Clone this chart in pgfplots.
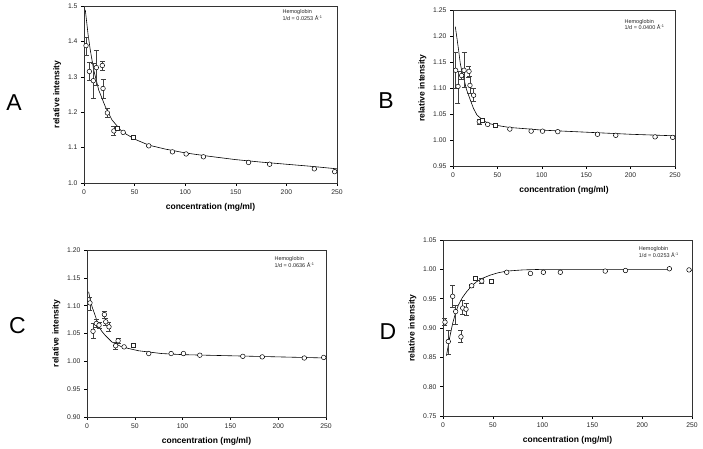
\documentclass[border=0pt]{standalone}
\usepackage{fontspec}
\setmainfont{Liberation Sans}
\usepackage{pgfplots}
\pgfplotsset{compat=1.18}
\usepackage{pgfplotstable}

% ---------- data ----------
\pgfplotstableread{
x y ep em
2.0 1.388 0.025 0.026
5.3 1.315 0.025 0.024
9.2 1.289 0.050 0.049
12.2 1.326 0.048 0.049
18.1 1.332 0.013 0.013
18.8 1.267 0.026 0.028
23.1 1.198 0.013 0.012
29.5 1.147 0.012 0.012
38.7 1.143 0 0
64.0 1.105 0 0
87.4 1.088 0 0
100.9 1.082 0 0
118.0 1.074 0 0
162.6 1.058 0 0
183.4 1.053 0 0
227.6 1.040 0 0
247.7 1.032 0 0
}\Acirc
\pgfplotstableread{
x y
32.8 1.154
48.5 1.130
}\Asq
\pgfplotstableread{
x y
1.3 1.489
4.0 1.420
6.2 1.376
9.6 1.319
14.5 1.263
21.0 1.216
27.7 1.178
37.5 1.145
50.7 1.123
64.0 1.107
80.0 1.096
100.0 1.085
125.0 1.075
150.0 1.066
175.0 1.059
200.0 1.053
225.0 1.047
250.0 1.040
}\Afit

\pgfplotstableread{
x y ep em
3.0 1.134 0.034 0.034
5.6 1.103 0.030 0.033
9.7 1.124 0.008 0.008
12.4 1.134 0.034 0.033
18.0 1.132 0.010 0.012
19.1 1.105 0.017 0.015
23.2 1.086 0.013 0.011
29.6 1.035 0.004 0.004
39.0 1.030 0 0
64.0 1.021 0 0
88.0 1.017 0 0
100.8 1.017 0 0
118.0 1.016 0 0
162.7 1.011 0 0
183.3 1.009 0 0
227.5 1.006 0 0
247.4 1.005 0 0
}\Bcirc
\pgfplotstableread{
x y
33.0 1.038
48.0 1.029
}\Bsq
\pgfplotstableread{
x y
2.6 1.218
4.5 1.195
6.3 1.173
8.2 1.147
10.0 1.132
11.9 1.121
15.0 1.098
19.5 1.077
23.0 1.061
27.0 1.048
34.4 1.037
40.0 1.032
49.5 1.028
64.0 1.024
87.0 1.021
100.0 1.019
150.0 1.015
200.0 1.011
250.0 1.008
}\Bfit

\pgfplotstableread{
x y ep em
3.1 1.105 0.011 0.013
6.3 1.054 0.014 0.013
9.8 1.068 0.008 0.006
12.6 1.065 0.006 0.006
18.2 1.084 0.006 0.007
19.6 1.071 0.006 0.006
23.0 1.062 0.008 0.008
30.0 1.028 0.006 0.006
32.5 1.037 0.005 0.005
38.8 1.026 0 0
64.6 1.014 0 0
88.0 1.014 0 0
100.9 1.014 0 0
118.0 1.011 0 0
163.0 1.009 0 0
183.3 1.008 0 0
227.3 1.006 0 0
247.6 1.007 0 0
}\Ccirc
\pgfplotstableread{
x y
48.5 1.029
}\Csq
\pgfplotstableread{
x y
1.7 1.125
3.1 1.113
5.5 1.097
8.4 1.083
11.9 1.065
15.0 1.055
18.9 1.047
25.9 1.035
36.3 1.026
53.8 1.019
78.0 1.014
100.0 1.012
150.0 1.010
200.0 1.008
250.0 1.006
}\Cfit

\pgfplotstableread{
x y ep em
2.0 0.910 0.006 0.005
5.3 0.877 0.020 0.021
9.7 0.954 0.019 0.019
12.7 0.928 0.010 0.021
18.0 0.885 0.011 0.010
19.8 0.934 0.014 0.010
23.1 0.932 0.010 0.010
28.8 0.972 0.003 0.003
38.9 0.980 0.004 0.004
64.0 0.995 0 0
87.8 0.993 0 0
100.8 0.995 0 0
117.8 0.995 0 0
162.9 0.997 0 0
183.2 0.998 0 0
227.3 1.001 0 0
247.0 0.999 0 0
}\Dcirc
\pgfplotstableread{
x y
32.3 0.985
48.4 0.980
}\Dsq
\pgfplotstableread{
x y
3.5 0.853
6.5 0.882
9.7 0.908
12.5 0.925
15.4 0.939
19.5 0.952
23.8 0.962
28.5 0.971
33.8 0.979
40.0 0.985
47.2 0.990
55.0 0.994
64.0 0.997
80.0 0.999
100.0 1.000
150.0 1.000
228.0 1.000
}\Dfit

\pgfplotsset{
 panel/.style={
  scale only axis,
  anchor=south west,
  clip=false,
  xmin=0, xmax=250,
  xtick={0,50,...,250},
  tick align=outside,
  xtick pos=bottom, ytick pos=left,
  major tick length=3pt,
  tick style={black, line width=0.5pt},
  axis line style={line width=0.6pt, black!80},
  /pgf/number format/assume math mode=true,
  tick label style={font=\fontsize{6.8}{8}\selectfont, text=black!85},
  label style={font=\bfseries\fontsize{8.5}{10}\selectfont},
  xlabel style={yshift=-2.5pt},
  xlabel={concentration (mg/ml)},
  ylabel={relative intensity},
 },
 fitline/.style={no marks, black, line width=0.6pt},
 circpts/.style={only marks, mark=*, mark size=2.3pt,
   mark options={fill=white, draw=black, line width=0.5pt},
   error bars/.cd, y dir=both, y explicit,
   error bar style={line width=0.5pt, black!75},
   error mark options={rotate=90, mark size=2.5pt, line width=0.5pt, black!75}},
 sqpts/.style={only marks, mark=square*, mark size=2.0pt,
   mark options={fill=white, draw=black!85, line width=0.45pt}},
}
\tikzset{
 ann/.style={anchor=north west, font=\fontsize{5.5}{6.8}\selectfont, align=left, inner sep=0pt, text=black!85},
 letter/.style={font=\fontsize{23}{26}\selectfont},
}

\begin{document}
\begin{tikzpicture}[x=1pt,y=1pt]
\path[use as bounding box] (0,0) rectangle (703,449);

% ---- A ----
\begin{axis}[panel, at={(84pt,266pt)}, width=253pt, height=177pt,
  ymin=1.0, ymax=1.5, ytick={1.0,1.1,...,1.5},
  yticklabel style={/pgf/number format/.cd, fixed, fixed zerofill, precision=1}]
\addplot[fitline] table {\Afit};
\addplot[circpts] table[x=x, y=y, y error plus=ep, y error minus=em] {\Acirc};
\addplot[sqpts] table {\Asq};
\node[ann] at (axis cs:196,1.49) {Hemoglobin\\1/d = 0.0253 Å\textsuperscript{-1}};
\end{axis}
\node[letter] at (14,346) {A};

% ---- B ----
\begin{axis}[panel, at={(453pt,283pt)}, width=222pt, height=156pt,
  ymin=0.95, ymax=1.25, ytick={0.95,1.00,...,1.25},
  yticklabel style={/pgf/number format/.cd, fixed, fixed zerofill, precision=2}]
\addplot[fitline] table {\Bfit};
\addplot[circpts] table[x=x, y=y, y error plus=ep, y error minus=em] {\Bcirc};
\addplot[sqpts] table {\Bsq};
\node[ann] at (axis cs:193,1.233) {Hemoglobin\\1/d = 0.0400 Å\textsuperscript{-1}};
\end{axis}
\node[letter] at (386,348) {B};

% ---- C ----
\begin{axis}[panel, at={(87pt,32pt)}, width=239pt, height=167pt,
  ymin=0.90, ymax=1.20, ytick={0.90,0.95,...,1.20},
  yticklabel style={/pgf/number format/.cd, fixed, fixed zerofill, precision=2}]
\addplot[fitline] table {\Cfit};
\addplot[circpts] table[x=x, y=y, y error plus=ep, y error minus=em] {\Ccirc};
\addplot[sqpts] table {\Csq};
\node[ann] at (axis cs:196,1.188) {Hemoglobin\\1/d = 0.0636 Å\textsuperscript{-1}};
\end{axis}
\node[letter] at (17.5,123) {C};

% ---- D ----
\begin{axis}[panel, at={(443pt,33pt)}, width=249pt, height=176pt,
  ymin=0.75, ymax=1.05, ytick={0.75,0.80,...,1.05},
  yticklabel style={/pgf/number format/.cd, fixed, fixed zerofill, precision=2}]
\addplot[fitline] table {\Dfit};
\addplot[circpts] table[x=x, y=y, y error plus=ep, y error minus=em] {\Dcirc};
\addplot[sqpts] table {\Dsq};
\node[ann] at (axis cs:196.5,1.0386) {Hemoglobin\\1/d = 0.0253 Å\textsuperscript{-1}};
\end{axis}
\node[letter] at (388,117) {D};
\end{tikzpicture}
\end{document}
